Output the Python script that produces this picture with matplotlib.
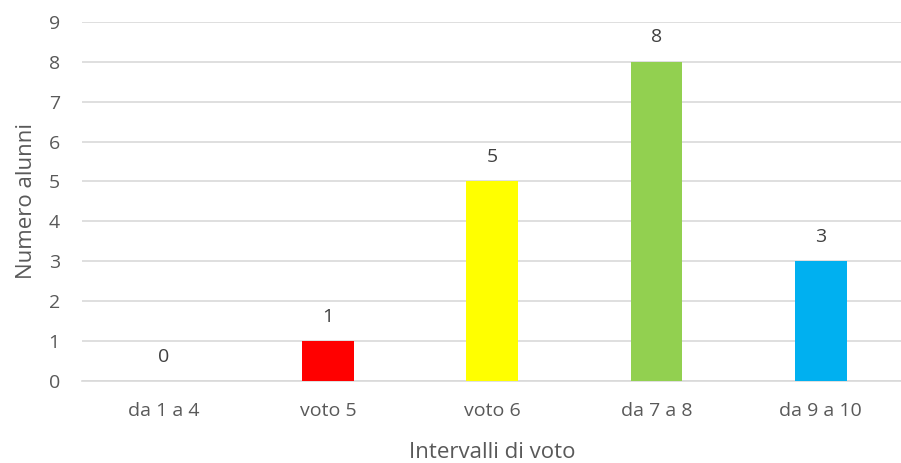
import matplotlib
matplotlib.use("Agg")
import matplotlib.pyplot as plt

categorie = ["da 1 a 4", "voto 5", "voto 6", "da 7 a 8", "da 9 a 10"]
alunni = [0, 1, 5, 8, 3]
colori = ["#4472C4", "#FF0000", "#FFFF00", "#92D050", "#00B0F0"]

plt.rcParams["font.family"] = ["Open Sans", "DejaVu Sans"]
grigio = "#595959"

fig = plt.figure(figsize=(9.01, 4.63), dpi=100)
ax = fig.add_axes([0.091, 0.177, 0.911, 0.776])

x = range(len(categorie))
ax.bar(x, alunni, width=0.316, color=colori, zorder=3)
# etichette dei valori sopra le barre
for xi, v in zip(x, alunni):
    ax.annotate(str(v), (xi, v), xytext=(0, 17.5), textcoords="offset points",
                ha="center", va="center", fontsize=14, color="#404040")

ax.set_xlim(-0.5, 4.5)
ax.set_ylim(0, 9)
ax.set_yticks(range(10))
ax.set_xticks(list(x))
ax.set_xticklabels(categorie)
ax.tick_params(axis="y", length=0, labelsize=14, colors=grigio, pad=16)
ax.tick_params(axis="x", length=0, labelsize=14, colors=grigio, pad=15)
ax.yaxis.grid(True, color="#D9D9D9", linewidth=1.2, zorder=0)
for s in ["top", "right", "left"]:
    ax.spines[s].set_visible(False)
ax.spines["bottom"].set_color("#D9D9D9")
ax.spines["bottom"].set_linewidth(1.2)
ax.set_xlabel("Intervalli di voto", fontsize=16, color=grigio, labelpad=16)
ax.set_ylabel("Numero alunni", fontsize=16, color=grigio, labelpad=8)

fig.savefig("out.png", dpi=100)
